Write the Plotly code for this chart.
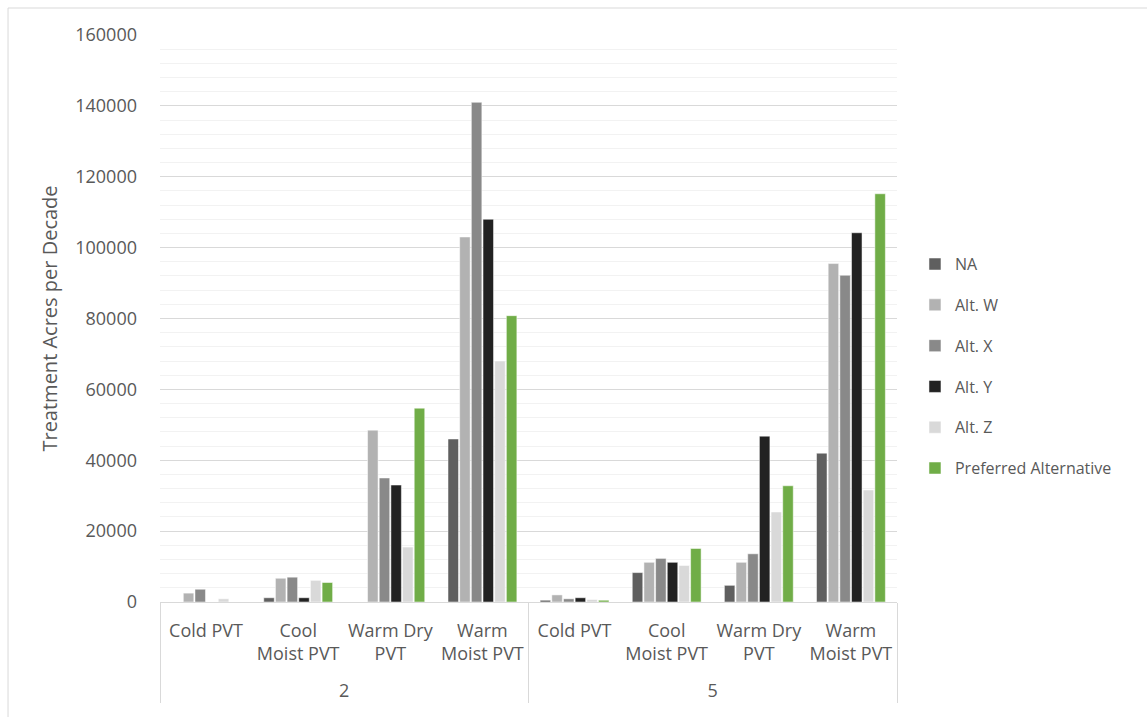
import plotly.graph_objects as go

decades = ["<br>2", "<br>2", "<br>2", "<br>2", "<br>5", "<br>5", "<br>5", "<br>5"]
pvts = ["Cold PVT", "Cool<br>Moist PVT", "Warm Dry<br>PVT", "Warm<br>Moist PVT",
        "Cold PVT", "Cool<br>Moist PVT", "Warm Dry<br>PVT", "Warm<br>Moist PVT"]

series_names = ["NA", "Alt. W", "Alt. X", "Alt. Y", "Alt. Z", "Preferred Alternative"]
na_vals = [0, 1200, 0, 46000, 500, 8300, 4700, 42000]
alt_w = [2500, 6700, 48500, 103000, 2000, 11200, 11200, 95500]
alt_x = [3600, 7000, 35000, 141000, 900, 12300, 13600, 92200]
alt_y = [0, 1200, 33000, 108000, 1200, 11200, 46800, 104200]
alt_z = [900, 6100, 15500, 68000, 700, 10300, 25400, 31600]
pref = [0, 5500, 54700, 80800, 500, 15100, 32800, 115200]
colors = ["#5f5f5f", "#b2b2b2", "#898989", "#222222", "#d9d9d9", "#70ad47"]

all_vals = [na_vals, alt_w, alt_x, alt_y, alt_z, pref]

fig = go.Figure()
for name, vals, col in zip(series_names, all_vals, colors):
    fig.add_trace(go.Bar(
        x=[decades, pvts], y=vals, name=name, legendgroup=name,
        marker=dict(color=col, line=dict(color="white", width=0.5)),
    ))

txt = "#595959"
fig.update_layout(
    width=1147, height=717,
    margin=dict(l=160, r=250, t=35, b=115, autoexpand=False),
    paper_bgcolor="white", plot_bgcolor="white",
    barmode="group", bargap=0.24, bargroupgap=0.1,
    font=dict(family="Open Sans, sans-serif", color=txt, size=16),
    legend=dict(x=1.0244, xanchor="left", y=0.416, yanchor="middle",
                font=dict(size=16, color=txt), tracegroupgap=17,
                itemwidth=30),
    showlegend=True,
)
fig.update_yaxes(
    range=[0, 160000], dtick=20000, tickformat="d",
    showgrid=True, gridcolor="#d9d9d9", gridwidth=1,
    minor=dict(dtick=4000, showgrid=True, gridcolor="#f2f2f2", gridwidth=1),
    zeroline=False, ticks="", ticklabelstandoff=22, automargin=False,
    tickfont=dict(size=18, color=txt, family="Open Sans, sans-serif"),
    title=dict(text="Treatment Acres per Decade", standoff=12,
               font=dict(size=20, color=txt, family="Open Sans, sans-serif")),
)
fig.update_xaxes(
    type="multicategory", showline=True, linecolor="#d9d9d9", linewidth=1,
    showdividers=True, dividercolor="#d9d9d9", dividerwidth=1,
    ticks="", tickangle=0, automargin=False, ticklabelstandoff=12,
    tickfont=dict(size=18, color=txt, family="Open Sans, sans-serif"),
)
fig.add_shape(type="rect", xref="paper", yref="paper",
              x0=-0.2062, x1=1.6, y0=-0.5, y1=1.0476,
              line=dict(color="#d9d9d9", width=1), fillcolor="rgba(0,0,0,0)", layer="below")

fig.write_html("out.html")
